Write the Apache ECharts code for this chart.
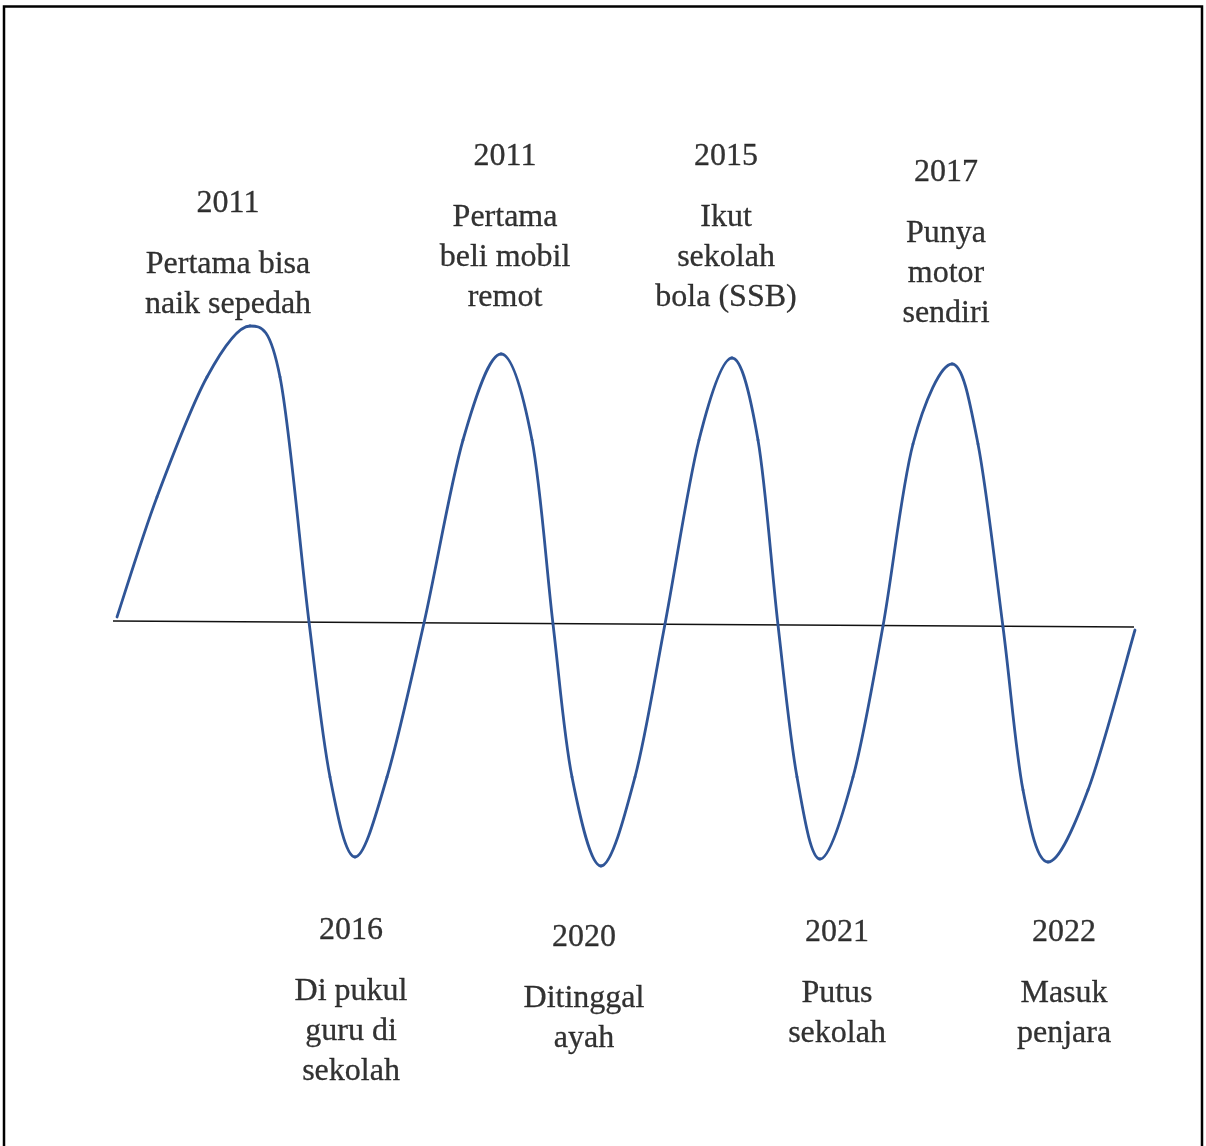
<!DOCTYPE html>
<html>
<head>
<meta charset="utf-8">
<script src="https://cdn.jsdelivr.net/npm/echarts@6/dist/echarts.min.js"></script>
<style>
html,body{margin:0;padding:0;background:#fff;}
#chart{width:1206px;height:1146px;}
</style>
</head>
<body>
<div id="chart"></div>
<script>
// ---- data ----
// wave: horizontal position along the timeline and height above the baseline
const curveX = [117,157,207,250,280,309,
  330,355,387,424,
  463,501,532,553,
  572,601,635,665,
  699,732,758,778,
  797,820,853,883,
  913,952,978,1003,
  1023,1048,1088,1135];
const curveY = [4,124,244,295,244,-1,
  -156,-236,-156,-2,
  181,267,181,-3,
  -156,-245,-156,-3,
  181,263,181,-4,
  -156,-238,-156,-5,
  177,257,177,-6,
  -169,-241,-169,-9];
const baselineX = [113, 1134];
const baselineY = [0, -6];

const years = ['2011','2016','2011','2020','2015','2021','2017','2022'];
const events = [
  ['Pertama bisa','naik sepedah'],
  ['Di pukul','guru di','sekolah'],
  ['Pertama','beli mobil','remot'],
  ['Ditinggal','ayah'],
  ['Ikut','sekolah','bola (SSB)'],
  ['Putus','sekolah'],
  ['Punya','motor','sendiri'],
  ['Masuk','penjara']
];

// ---- layout (label anchors: x and top, in axis units) ----
const labelX = [228, 351, 505, 584, 726, 837, 946, 1064];
const labelTop = [458, -269, 505, -276, 505, -271, 489, -271];

const chart = echarts.init(document.getElementById('chart'));
const font = "'Liberation Serif','Times New Roman',serif";

const curveData = curveX.map((x, i) => [x, curveY[i]]);
const baseData = baselineX.map((x, i) => [x, baselineY[i]]);
const labelData = labelX.map((x, i) => ({
  value: [x, labelTop[i]],
  year: years[i],
  lines: events[i]
}));
const n = curveData.length;

// smooth wave: each data item draws the Catmull-Rom segment to the next point
function renderWave(params, api) {
  const i = params.dataIndex;
  if (i >= n - 1) return null;
  const P = k => api.coord(curveData[Math.max(0, Math.min(n - 1, k))]);
  const p0 = P(i - 1), p1 = P(i), p2 = P(i + 1), p3 = P(i + 2);
  const t = 1 / 6;
  return {
    type: 'bezierCurve',
    shape: {
      x1: p1[0], y1: p1[1], x2: p2[0], y2: p2[1],
      cpx1: p1[0] + (p2[0] - p0[0]) * t, cpy1: p1[1] + (p2[1] - p0[1]) * t,
      cpx2: p2[0] - (p3[0] - p1[0]) * t, cpy2: p2[1] - (p3[1] - p1[1]) * t
    },
    style: {stroke: '#2f5597', lineWidth: 2.8, fill: null, lineCap: 'round'},
    silent: true
  };
}

chart.setOption({
  animation: false,
  backgroundColor: '#ffffff',
  grid: {left: 0, right: 0, top: 0, bottom: 0},
  xAxis: {type: 'value', min: 0, max: 1206, show: false},
  yAxis: {type: 'value', min: -525, max: 621, show: false},
  graphic: [{
    type: 'rect',
    shape: {x: 4, y: 6.5, width: 1198, height: 1300},
    style: {fill: 'none', stroke: '#000', lineWidth: 2.5},
    silent: true
  }],
  series: [
    {
      type: 'line',
      data: baseData,
      symbol: 'none',
      lineStyle: {color: '#111', width: 1.6},
      z: 1
    },
    {
      type: 'custom',
      coordinateSystem: 'cartesian2d',
      data: curveData,
      renderItem: renderWave,
      clip: false,
      z: 2
    },
    {
      type: 'scatter',
      data: labelData,
      symbolSize: 0,
      silent: true,
      label: {
        show: true,
        position: 'bottom',
        distance: 0,
        align: 'center',
        formatter: p => '{y|' + p.data.year + '}\n' + p.data.lines.map(l => '{d|' + l + '}').join('\n'),
        rich: {
          y: {fontFamily: font, fontSize: 32, lineHeight: 82, color: '#000', align: 'center', textBorderColor: '#000', textBorderWidth: 0.3},
          d: {fontFamily: font, fontSize: 32, lineHeight: 40, color: '#000', align: 'center', textBorderColor: '#000', textBorderWidth: 0.3}
        }
      },
      z: 3
    }
  ]
});
</script>
</body>
</html>
